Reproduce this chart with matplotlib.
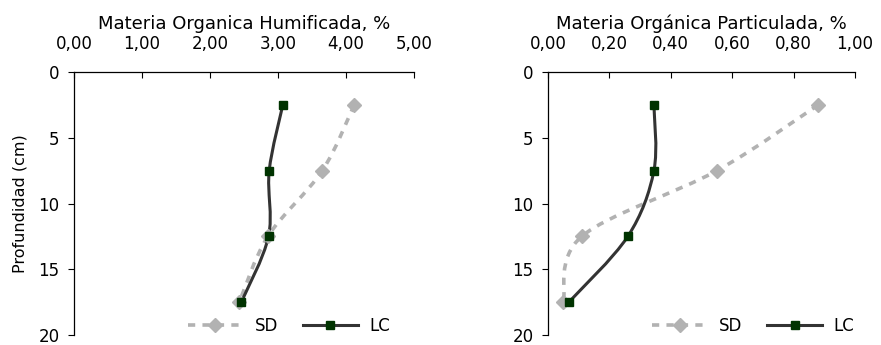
import matplotlib
matplotlib.use("Agg")
import matplotlib.pyplot as plt
from matplotlib.path import Path
from matplotlib.patches import PathPatch
from matplotlib.lines import Line2D
from matplotlib.ticker import FuncFormatter
import numpy as np

plt.rcParams['font.family'] = ['DejaVu Sans']

# depth of each sample layer (cm)
depth = [2.5, 7.5, 12.5, 17.5]

# Materia organica humificada, %
moh_sd = [4.12, 3.65, 2.85, 2.43]
moh_lc = [3.07, 2.87, 2.86, 2.46]

# Materia organica particulada, %
mop_sd = [0.88, 0.55, 0.11, 0.05]
mop_lc = [0.345, 0.345, 0.26, 0.068]

sd_color = '#b2b2b2'
lc_color = '#333333'
lc_marker = '#003300'
sd_dash = (0, (2.0, 2.0))


def smooth_path(xs, ys):
    # excel-like smoothed line: cubic bezier through the points
    pts = np.column_stack([xs, ys]).astype(float)
    verts = [pts[0]]
    codes = [Path.MOVETO]
    n = len(pts)
    for i in range(n - 1):
        p0 = pts[i - 1] if i > 0 else pts[i]
        p1 = pts[i]
        p2 = pts[i + 1]
        p3 = pts[i + 2] if i + 2 < n else pts[i + 1]
        c1 = p1 + (p2 - p0) / 6.0
        c2 = p2 - (p3 - p1) / 6.0
        verts += [c1, c2, p2]
        codes += [Path.CURVE4] * 3
    return Path(verts, codes)


def draw_panel(ax, sd, lc, xmax, step, title):
    ax.add_patch(PathPatch(smooth_path(sd, depth), fill=False, edgecolor=sd_color,
                           lw=2.6, ls=sd_dash, capstyle='butt'))
    ax.plot(sd, depth, ls='none', marker='D', ms=7, color=sd_color, mec=sd_color)
    ax.add_patch(PathPatch(smooth_path(lc, depth), fill=False, edgecolor=lc_color, lw=2.2))
    ax.plot(lc, depth, ls='none', marker='s', ms=5.5, color=lc_marker, mec=lc_marker)

    ax.set_xlim(0, xmax)
    ax.set_ylim(20, 0)
    ax.set_xticks(np.arange(0, xmax + step / 2, step))
    ax.set_yticks([0, 5, 10, 15, 20])
    ax.xaxis.set_major_formatter(FuncFormatter(lambda v, p: f"{v:.2f}".replace('.', ',')))
    ax.xaxis.tick_top()
    ax.xaxis.set_label_position('top')
    ax.set_xlabel(title, fontsize=13, labelpad=4)
    ax.tick_params(axis='x', direction='in', length=4, labelsize=12, pad=14)
    ax.tick_params(axis='y', direction='out', length=4.5, labelsize=12, pad=6)
    for s in ['right', 'bottom']:
        ax.spines[s].set_visible(False)
    for s in ['left', 'top']:
        ax.spines[s].set_color('#000000')
        ax.spines[s].set_linewidth(0.9)


fig = plt.figure(figsize=(8.81, 3.45), dpi=100)
ax1 = fig.add_axes([0.084, 0.029, 0.386, 0.762])
ax2 = fig.add_axes([0.622, 0.029, 0.3485, 0.762])

draw_panel(ax1, moh_sd, moh_lc, 5, 1, 'Materia Organica Humificada, %')
draw_panel(ax2, mop_sd, mop_lc, 1, 0.2, 'Materia Orgánica Particulada, %')
ax1.set_ylabel('Profundidad (cm)', fontsize=11.5, labelpad=8)

handles = [
    Line2D([], [], color=sd_color, lw=2.6, ls=sd_dash, marker='D', ms=7, mec=sd_color),
    Line2D([], [], color=lc_color, lw=2.2, marker='s', ms=5.5, mfc=lc_marker, mec=lc_marker),
]
for xa in [0.46, 0.987]:
    fig.legend(handles, ['SD', 'LC'], loc='center right', bbox_to_anchor=(xa, 0.055),
               ncol=2, frameon=False, fontsize=12, handlelength=3.3, columnspacing=1.5,
               handletextpad=0.7)

fig.savefig('out.png', dpi=100)
